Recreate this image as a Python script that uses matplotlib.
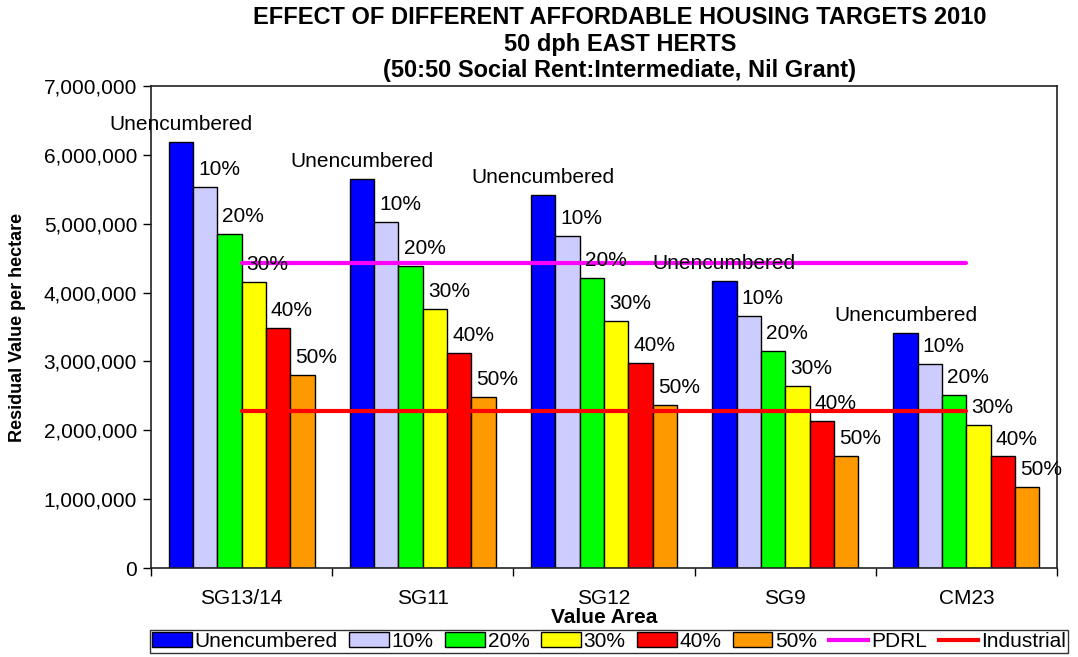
import matplotlib
matplotlib.use('Agg')
from matplotlib import pyplot as plt
from matplotlib.patches import Patch
from matplotlib.lines import Line2D
from matplotlib.ticker import FuncFormatter, FixedLocator
import numpy as np

plt.rcParams['font.family'] = ['Liberation Sans', 'DejaVu Sans']

# value areas and affordable housing scenarios
areas = ['SG13/14', 'SG11', 'SG12', 'SG9', 'CM23']
scenarios = ['Unencumbered', '10%', '20%', '30%', '40%', '50%']
colors = ['#0000FF', '#CCCCFF', '#00FF00', '#FFFF00', '#FF0000', '#FF9900']

# residual value per hectare, one list per scenario (across areas)
unencumbered = [6190000, 5650000, 5420000, 4170000, 3410000]
aff_10 = [5530000, 5020000, 4820000, 3660000, 2960000]
aff_20 = [4850000, 4390000, 4210000, 3150000, 2510000]
aff_30 = [4150000, 3760000, 3590000, 2640000, 2080000]
aff_40 = [3490000, 3120000, 2980000, 2130000, 1620000]
aff_50 = [2800000, 2480000, 2370000, 1630000, 1180000]
series = [unencumbered, aff_10, aff_20, aff_30, aff_40, aff_50]

# benchmark land values
pdrl = [4430000, 4430000, 4430000, 4430000, 4430000]
industrial = [2280000, 2280000, 2280000, 2280000, 2280000]

fig = plt.figure(figsize=(10.78, 6.57), dpi=100)
ax = fig.add_axes([151 / 1078, 1 - 568 / 657, 906 / 1078, 482 / 657])

x = np.arange(len(areas))
w = 0.1343
for i, (vals, name, c) in enumerate(zip(series, scenarios, colors)):
    pos = x + (i - 2.5) * w
    ax.bar(pos, vals, width=w, color=c, edgecolor='black', linewidth=1.0, zorder=2)
    dx = 0 if i == 0 else 10
    for px, v in zip(pos, vals):
        ax.annotate(name, (px, v), xytext=(dx, 12.5), textcoords='offset points',
                    ha='center', va='center', fontsize=15, zorder=4)

ax.plot(x, pdrl, color='#FF00FF', linewidth=3, solid_capstyle='round', zorder=3)
ax.plot(x, industrial, color='#FF0000', linewidth=3, solid_capstyle='round', zorder=3)

ax.set_xlim(-0.5, 4.5)
ax.set_ylim(0, 7000000)
ax.set_yticks(np.arange(0, 7000001, 1000000))
ax.yaxis.set_major_formatter(FuncFormatter(lambda v, p: '{:,.0f}'.format(v)))
ax.set_xticks(x)
ax.set_xticklabels(areas)
ax.xaxis.set_minor_locator(FixedLocator(np.arange(-0.5, 4.6, 1.0)))
ax.tick_params(axis='x', which='major', length=0, pad=15, labelsize=15)
ax.tick_params(axis='x', which='minor', length=6, width=1, direction='out')
ax.tick_params(axis='y', length=6, width=1, direction='out', labelsize=15, pad=4)
for s in ax.spines.values():
    s.set_linewidth(1.2)
    s.set_color('#222222')

ax.set_xlabel('Value Area', fontsize=15, fontweight='bold', labelpad=0)
ax.set_ylabel('Residual Value per hectare', fontsize=13, fontweight='bold', labelpad=13)

fig.text(0.575, 1 - 17 / 657, 'EFFECT OF DIFFERENT AFFORDABLE HOUSING TARGETS 2010',
         ha='center', va='center', fontsize=17, fontweight='bold')
fig.text(0.575, 1 - 44 / 657, '50 dph EAST HERTS',
         ha='center', va='center', fontsize=17, fontweight='bold')
fig.text(0.575, 1 - 71 / 657, '(50:50 Social Rent:Intermediate, Nil Grant)',
         ha='center', va='center', fontsize=17, fontweight='bold')

handles = [Patch(facecolor=c, edgecolor='black', linewidth=1.0) for c in colors]
handles += [Line2D([], [], color='#FF00FF', linewidth=3),
            Line2D([], [], color='#FF0000', linewidth=3)]
labels = scenarios + ['PDRL', 'Industrial']
leg = fig.legend(handles, labels, loc='upper left', bbox_to_anchor=(150 / 1078, 1 - 630 / 657),
                 ncol=8, fontsize=15, frameon=True, fancybox=False, edgecolor='black',
                 borderpad=0.1, columnspacing=0.54, handletextpad=0.15, handlelength=1.9,
                 handleheight=0.7, borderaxespad=0)
leg.get_frame().set_linewidth(1.0)

fig.savefig('out.png', dpi=100)
